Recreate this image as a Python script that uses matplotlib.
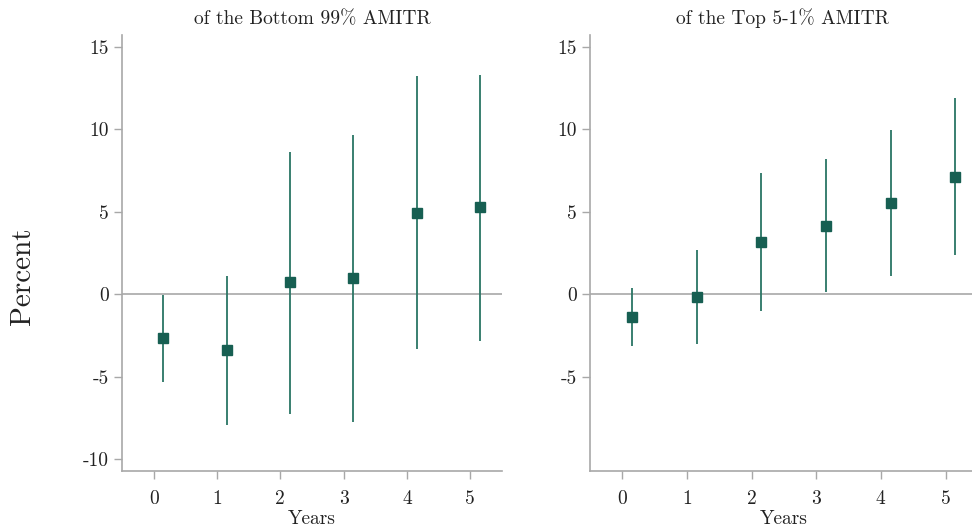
import matplotlib
matplotlib.use("Agg")
import matplotlib.pyplot as plt
import numpy as np

plt.rcParams['font.family'] = ['cmr10', 'DejaVu Serif']
plt.rcParams['axes.unicode_minus'] = False
plt.rcParams['mathtext.fontset'] = 'cm'

years = [0, 1, 2, 3, 4, 5]

bottom_est = [-2.67, -3.40, 0.73, 0.99, 4.93, 5.27]
bottom_lo = [-5.30, -7.90, -7.25, -7.75, -3.33, -2.80]
bottom_hi = [-0.06, 1.10, 8.60, 9.67, 13.20, 13.30]

top_est = [-1.35, -0.18, 3.15, 4.16, 5.51, 7.13]
top_lo = [-3.15, -3.03, -1.03, 0.12, 1.09, 2.39]
top_hi = [0.39, 2.69, 7.35, 8.20, 9.92, 11.90]

titles = ["of the Bottom 99% AMITR", "of the Top 5-1% AMITR"]
yticks_left = [-10, -5, 0, 5, 10, 15]
yticks_right = [-5, 0, 5, 10, 15]

offset = 0.15
mcolor = '#175f52'
lcolor = '#2a7565'
gray = '#a8a8a8'

fig = plt.figure(figsize=(9.72, 5.32), dpi=100)
ax1 = fig.add_axes([0.1255, 0.1147, 0.391, 0.8195])
ax2 = fig.add_axes([0.607, 0.1147, 0.399, 0.8195])

panels = [(ax1, bottom_est, bottom_lo, bottom_hi, titles[0], yticks_left),
          (ax2, top_est, top_lo, top_hi, titles[1], yticks_right)]

for ax, est, lo, hi, title, yt in panels:
    x = np.array(years) + offset
    ax.axhline(0, color=gray, lw=1.2, zorder=1)
    ax.vlines(x, lo, hi, color=lcolor, lw=1.3, zorder=2)
    ax.plot(x, est, 's', color=mcolor, ms=7.5, zorder=3, mec=mcolor)
    ax.set_xlim(-0.5, 5.5)
    ax.set_ylim(-10.7, 15.7)
    ax.set_xticks(years)
    ax.set_yticks(yt)
    ax.set_xticklabels([str(v) for v in years])
    ax.set_yticklabels([str(v) for v in yt])
    for s in ['top', 'right']:
        ax.spines[s].set_visible(False)
    for s in ['left', 'bottom']:
        ax.spines[s].set_color(gray)
        ax.spines[s].set_linewidth(1.2)
    ax.tick_params(colors=gray, labelcolor='#222222', labelsize=14, length=6, width=1.0)
    ax.tick_params(axis='x', pad=8)
    ax.set_xlabel("Years", fontsize=14, labelpad=1, color='#222222')

ax1.set_title(titles[0], fontsize=14, pad=8, color='#222222')
ax2.set_title(titles[1], fontsize=14, pad=8, color='#222222',
              x=(782 - 590) / (0.399 * 972))

ax1.set_ylabel("Percent", fontsize=21, color='#222222')
ax1.yaxis.set_label_coords(-0.225, 0.447)

fig.savefig("out.png", dpi=100)
